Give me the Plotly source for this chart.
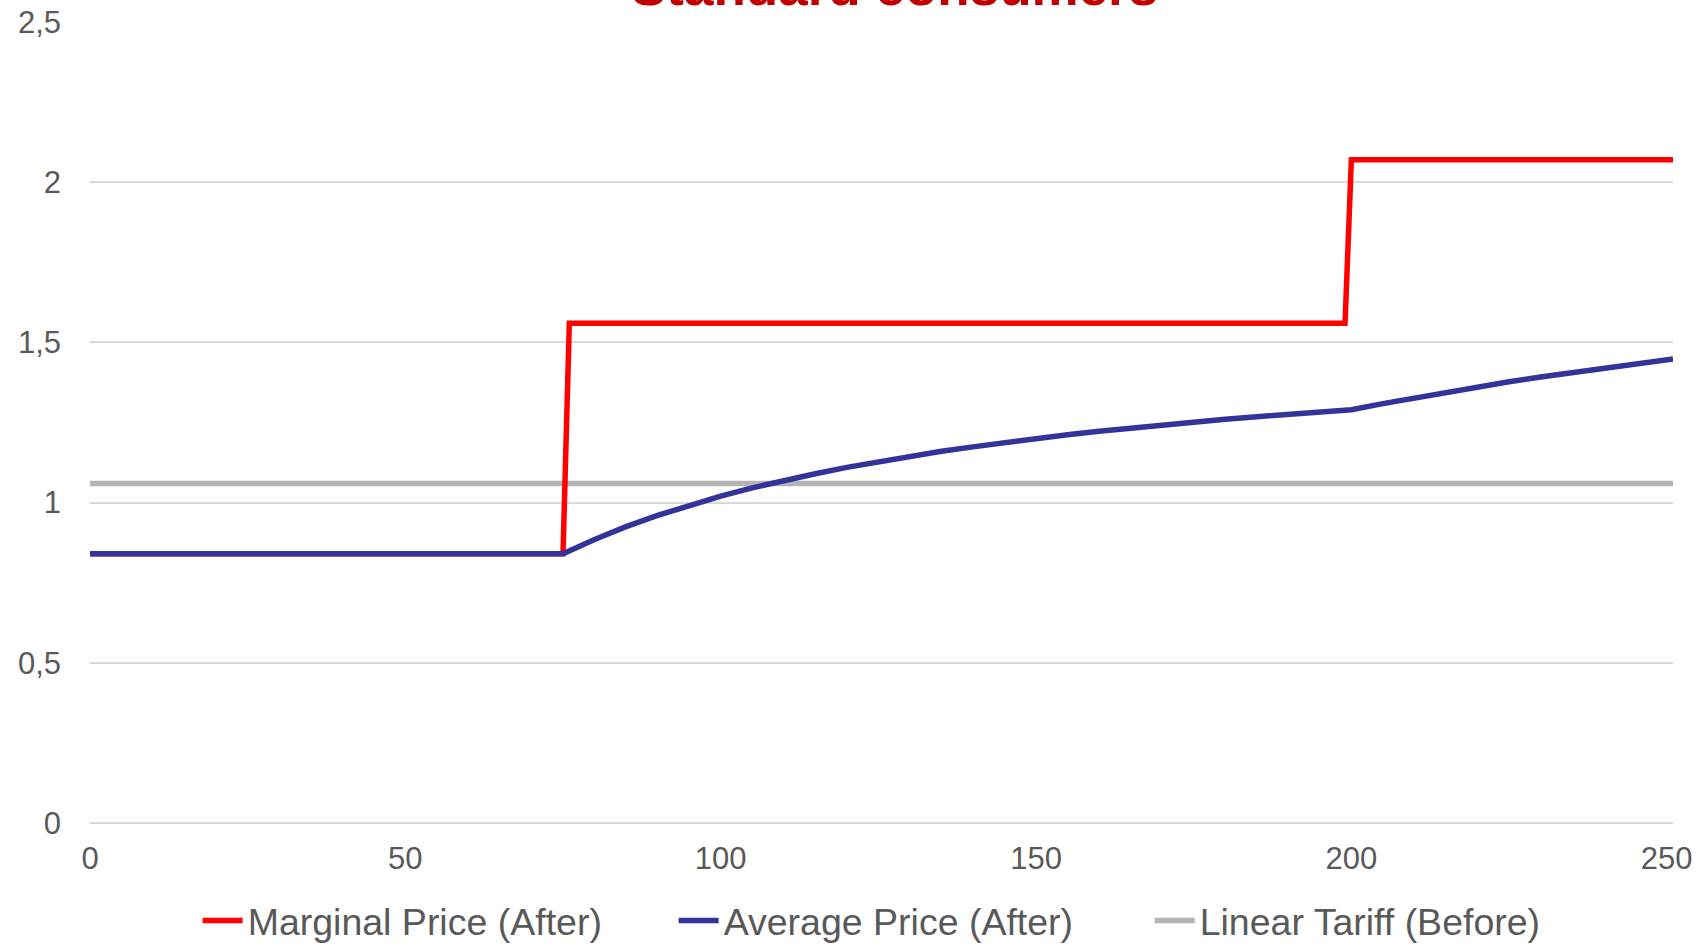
import plotly.graph_objects as go

# Consumption (kWh) and prices
marginal_x = [0, 75, 76, 199, 200, 251]
marginal_y = [0.84, 0.84, 1.56, 1.56, 2.07, 2.07]

average_x = [0, 75, 80, 85, 90, 95, 100, 105, 110, 115, 120, 125, 130, 135, 140,
             145, 150, 155, 160, 165, 170, 175, 180, 185, 190, 195, 200, 205,
             210, 215, 220, 225, 230, 235, 240, 245, 251]
average_y = [0.84, 0.84, 0.885, 0.925, 0.960, 0.992, 1.020, 1.046, 1.069, 1.090,
             1.110, 1.128, 1.145, 1.160, 1.174, 1.188, 1.200, 1.212, 1.223, 1.233,
             1.242, 1.251, 1.260, 1.268, 1.276, 1.283, 1.290, 1.309, 1.327, 1.344,
             1.361, 1.377, 1.392, 1.406, 1.420, 1.433, 1.448]

linear_x = [0, 251]
linear_y = [1.06, 1.06]

x_ticks = [0, 50, 100, 150, 200, 250]
series_names = ["Marginal Price (After)", "Average Price (After)", "Linear Tariff (Before)"]
title_text = "Standard consumers"

FONT = "Liberation Sans, Arial, sans-serif"
TEXT_COLOR = "#595959"
GRID_COLOR = "#D9D9D9"

fig = go.Figure()
# drawing order: tariff at the back, average price on top
fig.add_trace(go.Scatter(x=linear_x, y=linear_y, mode="lines", name=series_names[2],
                         line=dict(color="#B4B4B4", width=5.5), legendrank=3))
fig.add_trace(go.Scatter(x=marginal_x, y=marginal_y, mode="lines", name=series_names[0],
                         line=dict(color="#FF0000", width=5.5), legendrank=1))
fig.add_trace(go.Scatter(x=average_x, y=average_y, mode="lines", name=series_names[1],
                         line=dict(color="#333399", width=5.5), legendrank=2))

fig.add_annotation(text="<b>" + title_text + "</b>", xref="paper", yref="paper",
                   x=0.508, y=1.044, xanchor="center", yanchor="middle",
                   showarrow=False, font=dict(family=FONT, size=53, color="#C00000"))

fig.update_layout(
    width=1704, height=946,
    margin=dict(l=90, r=31, t=22, b=123, autoexpand=False),
    paper_bgcolor="white", plot_bgcolor="white",
    separators=",.",
    font=dict(family=FONT, color=TEXT_COLOR),
    showlegend=True,
    legend=dict(orientation="h", x=0.068, xanchor="left", y=-0.122, yanchor="middle",
                font=dict(family=FONT, size=37.5, color=TEXT_COLOR),
                traceorder="normal", itemwidth=40,
                entrywidth=421, entrywidthmode="pixels"),
    xaxis=dict(range=[0, 251], tickvals=x_ticks,
               showgrid=False, zeroline=False, showline=False, ticks="",
               tickfont=dict(family=FONT, size=31, color=TEXT_COLOR),
               ticklabelstandoff=14),
    yaxis=dict(range=[0, 2.5], dtick=0.5, tick0=0,
               showgrid=True, gridcolor=GRID_COLOR, gridwidth=1.5,
               zeroline=True, zerolinecolor=GRID_COLOR, zerolinewidth=1.5,
               showline=False, ticks="",
               tickfont=dict(family=FONT, size=31, color=TEXT_COLOR),
               ticklabelstandoff=28),
)

fig.write_html("out.html")
